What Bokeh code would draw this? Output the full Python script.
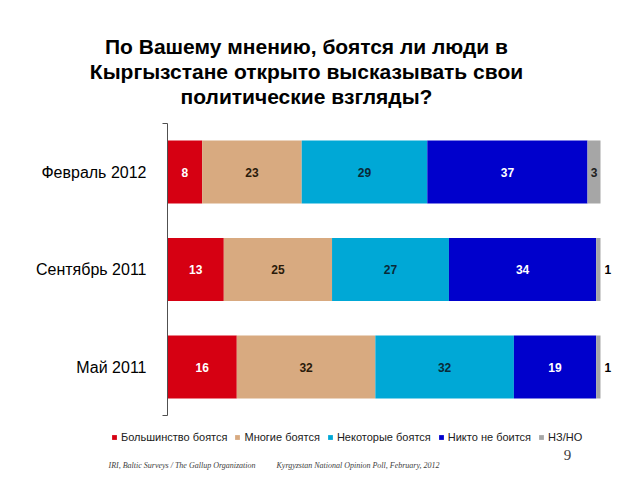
from bokeh.plotting import figure
from bokeh.models import Range1d, Label, Legend, LegendItem, ColumnDataSource, FixedTicker
from bokeh.embed import file_html
from bokeh.resources import INLINE
from bokeh.core.properties import value

periods = ["Февраль 2012", "Сентябрь 2011", "Май 2011"]
series = ["Большинство боятся", "Многие боятся", "Некоторые боятся", "Никто не боится", "НЗ/НО"]
most = [8, 13, 16]
many = [23, 25, 32]
some = [29, 27, 32]
nobody = [37, 34, 19]
dkna = [3, 1, 1]

title_lines = ["По Вашему мнению, боятся ли люди в",
               "Кыргызстане открыто высказывать свои",
               "политические взгляды?"]
footer_left = "IRI, Baltic Surveys / The Gallup Organization"
footer_right = "Kyrgyzstan National Opinion Poll, February, 2012"
page_number = "9"

colors = ["#D60012", "#D8AA80", "#00A8D6", "#0000CC", "#A6A6A6"]
label_colors = ["#FFFFFF", "#2A1A0A", "#0A2A38", "#FFFFFF", "#202020"]
keys = ["most", "many", "some", "nobody", "dkna"]
values_all = [most, many, some, nobody, dkna]

FONT = "Liberation Sans"
W, H = 632, 472

# categorical rows placed at integer positions (top row = highest)
ypos = [len(periods) - 1 - i for i in range(len(periods))]

source = ColumnDataSource(dict(y=ypos, most=most, many=many, some=some,
                               nobody=nobody, dkna=dkna))

# frame covers the whole canvas; scales chosen so x=0 sits at px 167, x=100 at px 600
px_per_x = 433 / 100.0
px_per_y = 97.5
x0_px, y_top_px = 167.0, 171.5
x_start = -x0_px / px_per_x
x_end = (W - x0_px) / px_per_x
y_end = 2 + y_top_px / px_per_y
y_start = 2 - (H - y_top_px) / px_per_y

p = figure(width=W, height=H, output_backend="svg", toolbar_location=None,
           x_range=Range1d(x_start, x_end), y_range=Range1d(y_start, y_end),
           min_border=0, min_border_left=0, min_border_right=0,
           min_border_top=0, min_border_bottom=0)
p.outline_line_color = None
p.xgrid.visible = False
p.ygrid.visible = False
p.xaxis.visible = False
p.background_fill_color = "white"

renderers = p.hbar_stack(keys, y="y", height=0.646, color=colors, source=source,
                         line_color=None)

# value labels
lx, ly, lt, lc, la = [], [], [], [], []
for i in range(len(periods)):
    cum = 0
    for s, vals in enumerate(values_all):
        v = vals[i]
        if v >= 2:
            lx.append(cum + v / 2)
            la.append("center")
        else:
            lx.append(cum + v + 0.9)
            la.append("left")
        ly.append(ypos[i])
        lt.append(str(v))
        lc.append(label_colors[s] if v >= 2 else "#000000")
        cum += v
lsrc = ColumnDataSource(dict(x=lx, y=ly, t=lt, c=lc, a=la))
p.text(x="x", y="y", text="t", text_color="c", text_align="a", source=lsrc,
       text_baseline="middle", text_font=value(FONT), text_font_style="bold",
       text_font_size="12px")

yax = p.yaxis[0]
yax.fixed_location = 0
yax.bounds = (-0.5, 2.5)
yax.ticker = FixedTicker(ticks=ypos, minor_ticks=[-0.5, 2.5])
yax.major_label_overrides = {ypos[i]: periods[i] for i in range(len(periods))}
yax.axis_line_color = "#505050"
yax.major_tick_line_color = None
yax.minor_tick_line_color = "#505050"
yax.minor_tick_out = 5
yax.minor_tick_in = 0
yax.major_label_text_font = FONT
yax.major_label_text_font_size = "16px"
yax.major_label_text_color = "#000000"
yax.major_label_standoff = 15


def sy(window_y):
    return H - window_y


# title
for k, line in enumerate(title_lines):
    p.add_layout(Label(x=306, y=sy(46 + k * 25), x_units="screen", y_units="screen",
                       text=line, text_align="center", text_baseline="middle",
                       text_font=FONT, text_font_style="bold", text_font_size="21px",
                       text_color="#000000"))

legend = Legend(items=[LegendItem(label=series[s], renderers=[renderers[s]]) for s in range(5)],
                orientation="horizontal", location=(111, sy(443)),
                glyph_width=6, glyph_height=6, label_standoff=4, spacing=7,
                padding=0, margin=0, border_line_color=None, background_fill_alpha=0,
                label_text_font=FONT, label_text_font_size="11px", label_height=10,
                label_text_color="#202020")
p.add_layout(legend, "center")

p.add_layout(Label(x=108, y=sy(465), x_units="screen", y_units="screen",
                   text=footer_left,
                   text_font="Liberation Serif", text_font_style="italic",
                   text_font_size="8px", text_color="#404040", text_baseline="middle"))
p.add_layout(Label(x=276, y=sy(465), x_units="screen", y_units="screen",
                   text=footer_right,
                   text_font="Liberation Serif", text_font_style="italic",
                   text_font_size="8px", text_color="#404040", text_baseline="middle"))
p.add_layout(Label(x=567, y=sy(454), x_units="screen", y_units="screen",
                   text=page_number, text_font="Liberation Serif", text_align="center",
                   text_font_size="15px", text_color="#404040", text_baseline="middle"))

open("out.html", "w").write(file_html(p, INLINE))
